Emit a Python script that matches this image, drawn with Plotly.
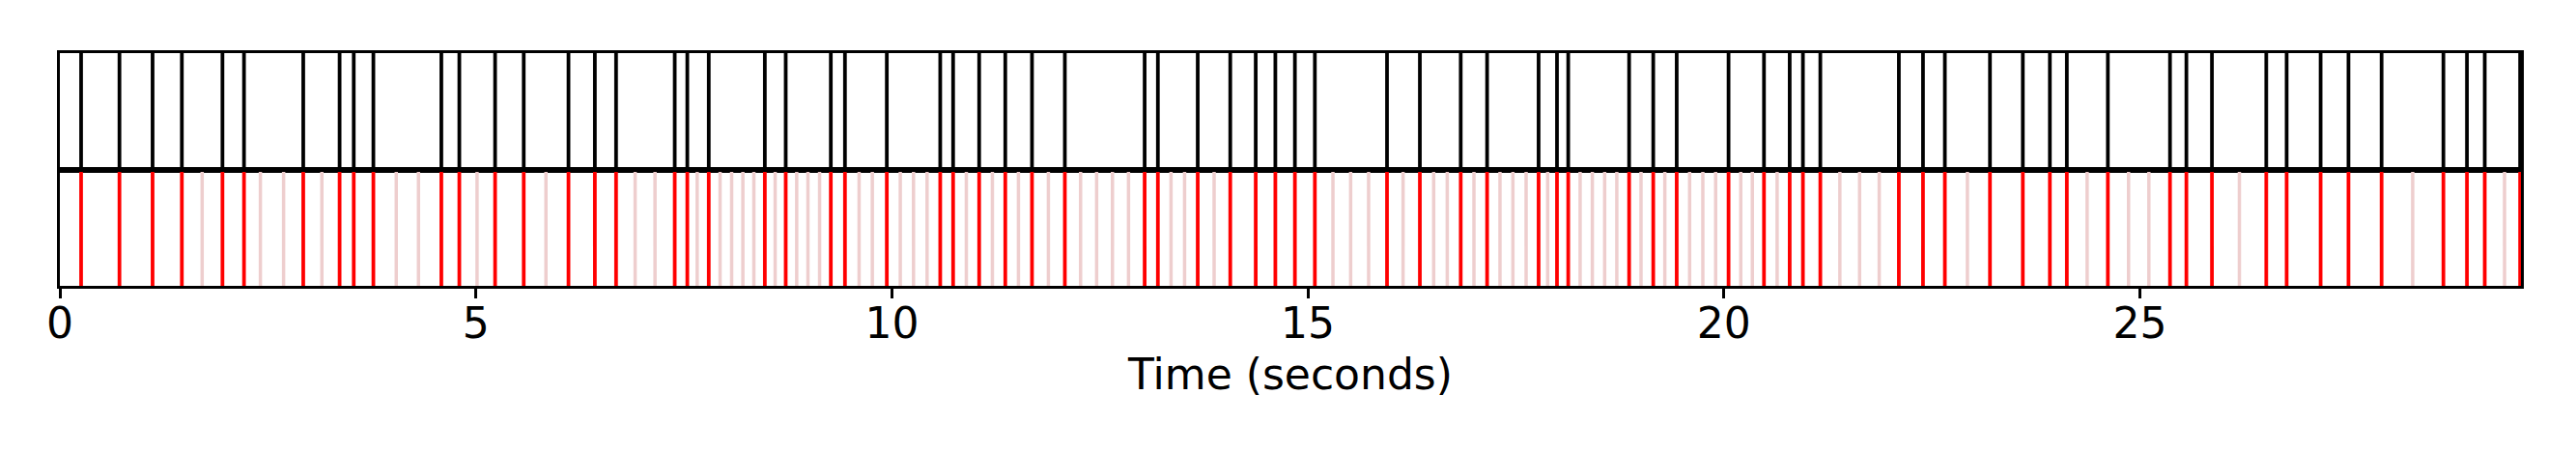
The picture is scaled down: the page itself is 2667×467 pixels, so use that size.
import plotly.graph_objects as go
from plotly.subplots import make_subplots

# Beat times (seconds) - black in top panel, red in bottom panel
beat_times = [0.255, 0.716, 1.114, 1.466, 1.954, 2.213, 2.925, 3.362, 3.532, 3.768,
              4.585, 4.801, 5.231, 5.575, 6.113, 6.430, 6.685, 7.390, 7.541, 7.799,
              8.473, 8.724, 9.266, 9.436, 9.939, 10.581, 10.736, 11.049, 11.363, 11.684,
              12.079, 13.038, 13.197, 13.676, 14.067, 14.373, 14.609, 14.844, 15.084,
              15.951, 16.346, 16.837, 17.154, 17.773, 17.994, 18.129, 18.861, 19.151,
              19.433, 20.056, 20.482, 20.791, 20.950, 21.159, 22.103, 22.393, 22.656,
              23.198, 23.593, 23.918, 24.122, 24.615, 25.362, 25.559, 25.866, 26.519,
              26.764, 27.172, 27.507, 27.905, 28.648, 28.931, 29.145, 29.570]

# Other onset candidates (seconds) - light pink in bottom panel
onset_times = [1.710, 2.410, 2.689, 3.149, 4.043, 4.310, 5.014, 5.842, 6.914, 7.153,
               7.660, 7.935, 8.074, 8.209, 8.341, 8.597, 8.856, 8.991, 9.131, 9.606,
               9.765, 10.101, 10.260, 10.423, 10.895, 11.208, 11.521, 11.881, 12.268,
               12.461, 12.651, 12.844, 13.355, 13.518, 13.873, 15.301, 15.514, 15.730,
               16.144, 16.512, 16.675, 16.996, 17.309, 17.464, 17.623, 17.882, 18.272,
               18.419, 18.567, 18.713, 19.004, 19.290, 19.588, 19.747, 19.901, 20.203,
               20.342, 20.640, 21.394, 21.631, 21.867, 22.927, 24.366, 24.864, 25.108,
               26.196, 28.279, 29.383]

duration = 29.58
tick_values = [0, 5, 10, 15, 20, 25]
tick_labels = ["0", "5", "10", "15", "20", "25"]
x_title = "Time (seconds)"


def vlines(times):
    xs, ys = [], []
    for t in times:
        xs += [t, t, None]
        ys += [0, 1, None]
    return xs, ys


fig = make_subplots(rows=2, cols=1, shared_xaxes=True, vertical_spacing=0)

bx, by = vlines(beat_times)
ox, oy = vlines(onset_times)

fig.add_trace(go.Scatter(x=bx, y=by, mode="lines",
                         line=dict(color="black", width=3.8),
                         hoverinfo="skip", showlegend=False), row=1, col=1)
fig.add_trace(go.Scatter(x=ox, y=oy, mode="lines",
                         line=dict(color="rgb(238,206,206)", width=3.5),
                         hoverinfo="skip", showlegend=False), row=2, col=1)
fig.add_trace(go.Scatter(x=bx, y=by, mode="lines",
                         line=dict(color="red", width=3.8),
                         hoverinfo="skip", showlegend=False), row=2, col=1)

font = dict(family="DejaVu Sans", size=44, color="black")

axis_common = dict(range=[0, duration], showgrid=False, zeroline=False,
                   showline=True, linecolor="black", linewidth=2.5, mirror=True,
                   automargin=False)

fig.update_xaxes(**axis_common, showticklabels=False, ticks="", row=1, col=1)
fig.update_xaxes(**axis_common, tickmode="array", tickvals=tick_values,
                 ticktext=tick_labels, ticks="outside", ticklen=10, tickwidth=2.5,
                 tickcolor="black", tickfont=font, ticklabelstandoff=-12,
                 title=dict(text=x_title, font=font, standoff=14), row=2, col=1)
fig.update_yaxes(range=[0, 1], showgrid=False, zeroline=False, showline=True,
                 linecolor="black", linewidth=2.5, mirror=True, automargin=False,
                 showticklabels=False, ticks="")

fig.add_shape(type="line", xref="paper", yref="paper", x0=0, x1=1, y0=0.5, y1=0.5,
              line=dict(color="black", width=5))

fig.update_layout(width=2667, height=467,
                  margin=dict(l=54, r=65, t=47, b=179),
                  plot_bgcolor="white", paper_bgcolor="white",
                  font=font)

fig.write_html("out.html")
